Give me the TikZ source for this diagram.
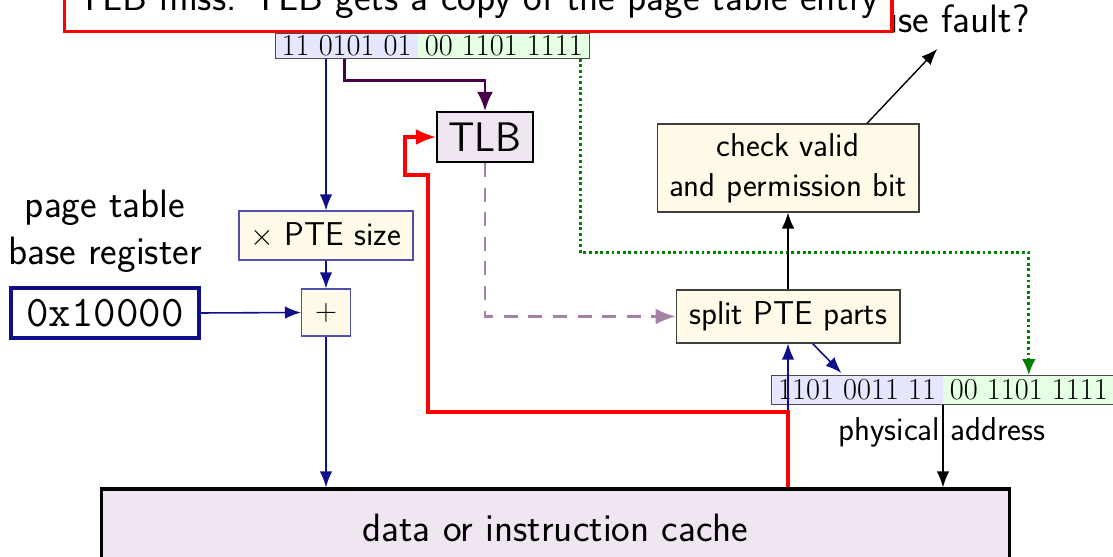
\documentclass[tikz,border=0pt]{standalone}
\usepackage{fontspec}
\usetikzlibrary{arrows.meta,calc}
\renewcommand{\familydefault}{\sfdefault}
\newcommand{\bigf}{\fontsize{22.5}{27}\selectfont}
\newcommand{\medf}{\fontsize{18.8}{22.5}\selectfont}
\newcommand{\barf}{\fontsize{17.3}{20}\selectfont}
\newcommand{\tlbf}{\fontsize{23.5}{28}\selectfont}
\definecolor{navyc}{RGB}{15,15,140}
\definecolor{boxblue}{RGB}{80,80,180}
\definecolor{barblue}{RGB}{230,230,255}
\definecolor{bargreen}{RGB}{228,255,228}
\definecolor{lightyel}{RGB}{255,251,232}
\definecolor{lightpur}{RGB}{240,230,242}
\definecolor{darkpur}{RGB}{72,0,72}
\definecolor{dashpur}{RGB}{165,130,165}
\definecolor{dotgreen}{RGB}{0,130,0}
\begin{document}
\begin{tikzpicture}[x=0.02cm,y=-0.02cm,
  yelbox/.style={draw=black!75,fill=lightyel,line width=0.6pt,inner sep=0pt,align=center,font=\medf},
  bluebox/.style={draw=boxblue,fill=lightyel,line width=0.6pt,inner sep=0pt,font=\medf},
  barpart/.style={inner sep=0pt,font=\barf\rmfamily},
  navyarr/.style={draw=navyc,line width=0.9pt,-{Latex[length=0.32cm,width=0.25cm]}},
  blackarr/.style={draw=black,line width=0.8pt,-{Latex[length=0.32cm,width=0.25cm]}},
]
\useasboundingbox (0,0) rectangle (1113,557);
\clip (0,0) rectangle (1113,557);

% text labels
\node[font=\bigf,anchor=base east,inner sep=0pt] (fault) at (1030,33) {cause fault?};
\node[font=\bigf,align=center,anchor=base] (ptlabel) at (105,265) {page table\\base register};

% red top box
\node[draw=red,fill=white,line width=1.8pt,minimum width=16.56cm,text depth=0pt,inner ysep=11.5pt,anchor=base,font=\bigf] (miss) at (478,11) {TLB miss: TLB gets a copy of the page table entry};

% virtual address bar
\node[barpart,fill=barblue,minimum width=2.84cm,minimum height=0.5cm,anchor=north east] (va1) at (418,33) {11 0101 01};
\node[barpart,fill=bargreen,minimum width=3.42cm,minimum height=0.5cm,anchor=north west] (va2) at (418,33) {00 1101 1111};
\draw[black!70,line width=0.5pt] (va1.north west) rectangle (va2.south east);

% boxes
\node[draw=black,fill=lightpur,line width=1.2pt,minimum width=1.92cm,minimum height=1.0cm,inner sep=0pt,font=\tlbf] (tlb) at (485,137) {TLB};
\node[yelbox,minimum width=5.24cm,minimum height=1.76cm] (check) at (788,168) {check valid\\and permission bit};
\node[bluebox,minimum width=3.48cm,minimum height=0.98cm] (pte) at (326,235.5) {$\times$ PTE size};
\node[bluebox,minimum width=0.98cm,minimum height=0.94cm] (plus) at (326,312.5) {$+$};
\node[draw=navyc,line width=1.8pt,minimum width=3.76cm,minimum height=1.0cm,inner sep=0pt,font=\Huge\ttfamily] (basereg) at (105,313) {0x10000};
\node[yelbox,minimum width=4.48cm,minimum height=1.06cm] (split) at (788,316.5) {split PTE parts};

% physical address bar
\node[barpart,fill=barblue,minimum width=3.42cm,minimum height=0.58cm,anchor=north east] (pa1) at (943,375) {1101 0011 11};
\node[barpart,fill=bargreen,minimum width=3.42cm,minimum height=0.58cm,anchor=north west] (pa2) at (943,375) {00 1101 1111};
\draw[black!70,line width=0.5pt] (pa1.north west) rectangle (pa2.south east);
\node[font=\medf,anchor=base] (phys) at (942,440) {physical address};

% cache
\node[draw=black,fill=lightpur,line width=1.8pt,minimum width=18.18cm,minimum height=1.56cm,inner sep=0pt,font=\bigf] (cache) at (555.5,528) {data or instruction cache};

% connectors
\draw[navyarr] (pte.north |- va1.south) -- (pte.north);
\draw[navyarr] (pte.south) -- (plus.north);
\draw[navyarr] (plus.south) -- (plus.south |- cache.north);
\draw[navyarr] (basereg.east) -- (plus.west);
\coordinate (vpur) at ($(va1.south west)+(69,0)$);
\draw[darkpur,line width=1.4pt,-{Latex[length=0.38cm,width=0.32cm]}] (vpur) -- ++(0,22) -| (tlb.north);
\draw[dashpur,line width=1.2pt,dash pattern=on 8pt off 6pt,-{Latex[length=0.4cm,width=0.32cm]}] (tlb.south) |- (split.west);
\coordinate (vgr) at ($(va2.south east)+(-9,0)$);
\draw[dotgreen,line width=1.6pt,dash pattern=on 1.6pt off 1.6pt,-{Latex[length=0.32cm,width=0.28cm]}] (vgr) -- ++(0,194) -| (pa2.north);
\draw[blackarr] (split.north) -- (check.south);
\draw[blackarr] ($(check.north west)!0.8!(check.north east)$) -- ($(fault.base)+(0,16)$);
\draw[navyarr] ($(split.south west)+(137,0)$) -- ($(pa1.north west)+(70,-2)$);
\draw[blackarr] (pa1.south east) -- (pa1.south east |- cache.north);
\draw[navyarr] (split.south |- cache.north) -- (split.south);
\draw[red,line width=1.8pt,-{Latex[length=0.4cm,width=0.32cm]}] (split.south |- cache.north) -- (788,412) -- (428,412) -- (428,175) -- (405,175) -- (405,137) -- (tlb.west);
\end{tikzpicture}
\end{document}
